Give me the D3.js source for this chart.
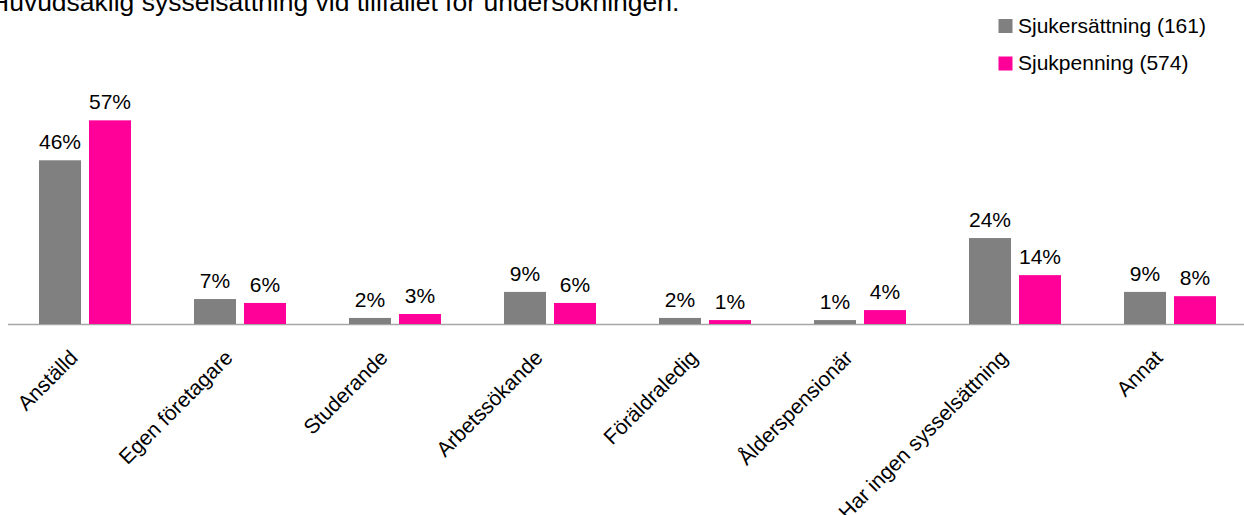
<!DOCTYPE html>
<html>
<head>
<meta charset="utf-8">
<script src="https://cdnjs.cloudflare.com/ajax/libs/d3/7.8.5/d3.min.js"></script>
<style>
  body { margin: 0; background: #fff; }
  svg { display: block; font-family: "Liberation Sans", Arial, sans-serif; }
</style>
</head>
<body>
<div id="chart"></div>
<script>
// Categories along the x axis.
let categories = ["Anställd", "Egen företagare", "Studerande", "Arbetssökande", "Föräldraledig", "Ålderspensionär", "Har ingen sysselsättning", "Annat"];

// Series names as shown in the legend.
let seriesNames = ["Sjukersättning (161)", "Sjukpenning (574)"];

// Percentages.
let sjukersattning = [45.9, 7.0, 1.7, 9.0, 1.7, 1.1, 24.1, 9.0];
let sjukpenning = [57.1, 5.9, 2.8, 5.9, 1.1, 3.9, 13.7, 7.8];

let colors = ["#808080", "#ff0099"];
let title = "Huvudsaklig sysselsättning vid tillfället för undersökningen.";

// Dimensions.
let width = 1244, height = 515;
let baseY = 324;

let svg = d3.select("#chart")
            .append("svg")
            .attr("width", width)
            .attr("height", height);

// Build rows from the arrays.
let seriesValues = [sjukersattning, sjukpenning];
let rows = categories.map(function(c, i) {
    return {cat: c, values: seriesNames.map(function(s, j) { return {key: s, value: seriesValues[j][i]}; })};
});

// Scales.
let x0 = d3.scaleBand()
           .domain(categories)
           .range([7.5, 1247.5]);

let x1 = d3.scaleBand()
           .domain(seriesNames)
           .range([31.5, 123.5])
           .paddingInner(0.16);

let y = d3.scaleLinear()
          .domain([0, 60])
          .range([baseY, 110]);

let color = d3.scaleOrdinal().domain(seriesNames).range(colors);

// Title (cropped at the top like the original).
svg.append("text")
   .attr("x", -10)
   .attr("y", 11)
   .style("font-size", "26.5px")
   .attr("fill", "#000")
   .text(title);

// X axis.
let xAxis = svg.append("g")
               .attr("transform", "translate(0," + baseY + ")")
               .call(d3.axisBottom(x0).tickSize(0).tickSizeOuter(0));

xAxis.select(".domain")
     .attr("stroke", "#a6a6a6")
     .attr("stroke-width", 1.5);

xAxis.selectAll("text")
     .attr("x", 0)
     .attr("y", 0)
     .attr("dy", 0)
     .attr("text-anchor", "end")
     .attr("transform", "translate(-6,35) rotate(-45)")
     .attr("fill", "#000")
     .style("font-size", "21px")
     .style("font-family", "'Liberation Sans', Arial, sans-serif");

// Bars.
let groups = svg.append("g")
                .selectAll("g")
                .data(rows)
                .enter()
                .append("g")
                .attr("transform", function(d) { return "translate(" + x0(d.cat) + ",0)"; });

groups.selectAll("rect")
      .data(function(d) { return d.values; })
      .enter()
      .append("rect")
      .attr("x", function(d) { return x1(d.key); })
      .attr("y", function(d) { return y(d.value); })
      .attr("width", x1.bandwidth())
      .attr("height", function(d) { return baseY - y(d.value); })
      .attr("fill", function(d) { return color(d.key); });

// Value labels.
groups.selectAll("text")
      .data(function(d) { return d.values; })
      .enter()
      .append("text")
      .attr("x", function(d) { return x1(d.key) + x1.bandwidth() / 2; })
      .attr("y", function(d) { return y(d.value) - 11; })
      .attr("text-anchor", "middle")
      .attr("fill", "#000")
      .style("font-size", "21px")
      .text(function(d) { return d3.format(".0f")(d.value) + "%"; });

// Legend.
let legend = svg.append("g")
                .selectAll("g")
                .data(seriesNames)
                .enter()
                .append("g")
                .attr("transform", function(d, i) { return "translate(998.5," + (19 + i * 37.5) + ")"; });

legend.append("rect")
      .attr("width", 14)
      .attr("height", 14)
      .attr("fill", function(d) { return color(d); });

legend.append("text")
      .attr("x", 19.5)
      .attr("y", 13.5)
      .attr("fill", "#000")
      .style("font-size", "21px")
      .text(function(d) { return d; });
</script>
</body>
</html>
